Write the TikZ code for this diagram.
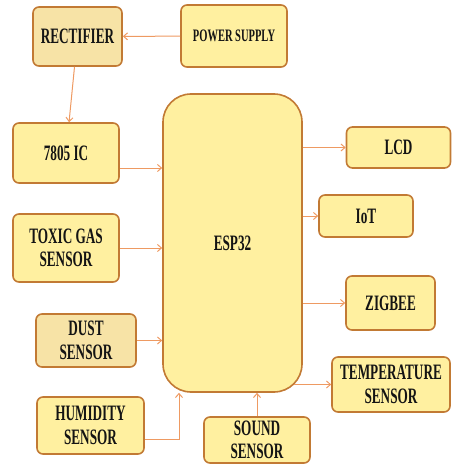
\documentclass[tikz,border=0pt]{standalone}
\usepackage{fontspec}
\setmainfont{Liberation Serif}[FakeStretch=0.6]
\usepackage{xcolor}
\usepackage{tikz}
\usetikzlibrary{arrows.meta}
\definecolor{bFill}{HTML}{FFF0A0}
\definecolor{bDark}{HTML}{F7E3A6}
\definecolor{bEdge}{HTML}{C27A34}
\definecolor{aLine}{HTML}{EE9A62}
\definecolor{nInk}{HTML}{141414}

\begin{document}
\begin{tikzpicture}[x=1pt, y=-1pt, >={Straight Barb[length=4pt,width=7pt]},
          block/.style={draw=bEdge, fill=bFill, line width=1.6pt, rounded corners=6pt,
            inner sep=0pt, align=center, text=nInk, font=\fontsize{22}{23.5}\selectfont\bfseries},
          hub/.style={block, rounded corners=28pt},
          link/.style={->, aLine, line width=1pt}]
        \useasboundingbox (0,0) rectangle (451,465);
        % power chain
        \node[block, fill=bDark, minimum width=89pt, minimum height=59pt] (rect) at (77.5,36.5) {RECTIFIER};
        \node[block, minimum width=106pt, minimum height=62pt, font=\fontsize{17.5}{20}\selectfont\bfseries] (ps) at (234,36) {POWER SUPPLY};
        \node[block, minimum width=106pt, minimum height=60pt] (ic) at (66,153) {7805 IC};
        % controller
        \node[hub, minimum width=139pt, minimum height=298pt] (esp) at (232.5,243) {ESP32};
        % sensors
        \node[block, minimum width=106pt, minimum height=68pt] (toxic) at (66,248) {TOXIC GAS\\SENSOR};
        \node[block, fill=bDark, minimum width=100pt, minimum height=53pt] (dust) at (86,340.5) {DUST\\SENSOR};
        \node[block, minimum width=107pt, minimum height=57pt] (hum) at (90.5,425.5) {HUMIDITY\\SENSOR};
        \node[block, minimum width=106pt, minimum height=46pt] (sound) at (257,440) {SOUND\\SENSOR};
        % outputs
        \node[block, minimum width=104pt, minimum height=41pt] (lcd) at (398.5,147.5) {LCD};
        \node[block, minimum width=94pt, minimum height=42pt] (iot) at (366,216) {IoT};
        \node[block, minimum width=89pt, minimum height=54pt] (zig) at (390.5,303) {ZIGBEE};
        \node[block, minimum width=118pt, minimum height=55pt] (temp) at (391,384.5) {TEMPERATURE\\SENSOR};
        % connections
        \draw[link] (ps) -- (rect);
        \draw[link] (rect) -- (ic);
        \draw[link] ([yshift=-15pt]ic.east) coordinate (icout) -- (icout -| esp.west);
        \draw[link] (toxic.east) -- (toxic.east -| esp.west);
        \draw[link] (dust.east) -- (dust.east -| esp.west);
        \draw[link] ([yshift=-13.5pt]hum.east) -| ([xshift=-53.5pt]esp.south);
        \draw[link] (sound.north) -- (sound.north |- esp.south);
        \draw[link] (lcd.west -| esp.east) -- (lcd.west);
        \draw[link] (iot.west -| esp.east) -- (iot.west);
        \draw[link] (zig.west -| esp.east) -- (zig.west);
        \draw[link] ([xshift=-8.4pt]temp.west -| esp.east) -- (temp.west);
      \end{tikzpicture}
\end{document}
